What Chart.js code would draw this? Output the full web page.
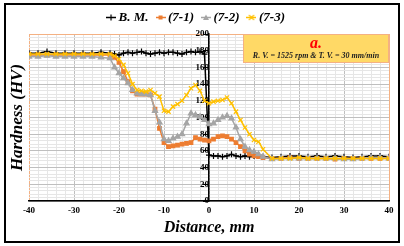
<!DOCTYPE html>
<html>
<head>
<meta charset="utf-8">
<script src="https://cdn.jsdelivr.net/npm/chart.js@4.4.0/dist/chart.umd.min.js"></script>
<style>
  html, body { margin: 0; padding: 0; background: #fff; }
  #wrap { width: 404px; height: 246px; position: relative; }
</style>
</head>
<body>
<div id="wrap"><canvas id="hardnessChart" width="404" height="246"></canvas></div>
<script>
// distance from weld centre, mm
var distance = [-40, -38, -36, -34, -32, -30, -28, -26, -24, -22,
    -21, -20, -19, -18, -17, -16, -15, -14, -13, -12, -11, -10, -9, -8, -7, -6, -5, -4, -3, -2, -1,
    0, 1, 2, 3, 4, 5, 6, 7, 8, 9, 10, 11, 12,
    14, 16, 18, 20, 22, 24, 26, 28, 30, 32, 34, 36, 38, 40];

// hardness, HV
var baseMetal = [177, 177, 179, 177, 177, 177, 177, 177, 178, 177,
    176, 175, 177, 178, 177, 178, 179, 177, 176, 177, 178, 177, 178, 178, 177, 176, 178, 179, 178, 179, 176,
    55, 54, 54, 53, 54, 56, 54, 53, 54, 53, 54, 55, 53,
    52, 53, 54, 54, 53, 54, 53, 54, 53, 52, 53, 54, 54, 53];
var sample71 = [175, 175, 175, 175, 175, 175, 175, 175, 175, 175,
    172, 166, 155, 143, 132, 128, 128, 128, 127, 110, 87, 70, 65, 66, 67, 68, 69, 70, 76, 74, 73,
    72, 74, 77, 78, 77, 74, 70, 65, 60, 56, 54, 53, 52,
    51, 51, 52, 51, 51, 51, 51, 50, 51, 51, 51, 51, 51, 51];
var sample72 = [173, 173, 174, 173, 173, 173, 173, 173, 172, 171,
    160, 153, 147, 141, 133, 129, 128, 128, 127, 108, 94, 74, 72, 75, 77, 80, 93, 105, 103, 101, 97,
    92, 93, 97, 100, 102, 99, 88, 74, 65, 61, 59, 56, 53,
    50, 51, 51, 51, 51, 51, 51, 51, 50, 50, 51, 52, 52, 51];
var sample73 = [176, 176, 176, 176, 176, 176, 176, 176, 176, 176,
    174, 170, 163, 153, 140, 133, 132, 131, 133, 129, 125, 108, 107, 113, 116, 120, 127, 135, 139, 132, 120,
    117, 119, 120, 121, 124, 117, 107, 97, 88, 80, 73, 71, 62,
    51, 51, 51, 52, 51, 51, 51, 51, 51, 51, 51, 51, 51, 51];

var seriesNames = ['B. M.', '(7-1)', '(7-2)', '(7-3)'];

var SERIF = '"Liberation Serif", "Times New Roman", serif';

function toPoints(values) {
    return values.map(function (v, i) { return {x: distance[i], y: v}; });
}

// little "line + marker" icon for the legend, like Excel does
function legendIcon(color, style) {
    var c = document.createElement('canvas');
    c.width = 10;
    c.height = 9;
    var g = c.getContext('2d');
    g.strokeStyle = color;
    g.fillStyle = color;
    g.lineWidth = 1.5;
    g.beginPath();
    g.moveTo(0, 4.5);
    g.lineTo(10, 4.5);
    g.stroke();
    g.lineWidth = 1.2;
    g.beginPath();
    if (style === 'cross') {
        g.moveTo(5, 1.5); g.lineTo(5, 7.5);
        g.moveTo(2, 4.5); g.lineTo(8, 4.5);
        g.stroke();
    } else if (style === 'rect') {
        g.fillRect(3, 2.5, 4, 4);
    } else if (style === 'triangle') {
        g.moveTo(5, 1.5); g.lineTo(8, 7); g.lineTo(2, 7); g.closePath();
        g.fill();
    } else {
        g.moveTo(2.5, 2); g.lineTo(7.5, 7);
        g.moveTo(7.5, 2); g.lineTo(2.5, 7);
        g.stroke();
    }
    return c;
}

var colors = ['#000000', '#ED7D31', '#A5A5A5', '#FFC000'];
var styles = ['cross', 'rect', 'triangle', 'crossRot'];
var radii = [3, 2.5, 3, 3];
var icons = colors.map(function (c, i) { return legendIcon(c, styles[i]); });

// frame, info box
var decorations = {
    id: 'decorations',
    afterDatasetsDraw: function (chart) {
        var ctx = chart.ctx;
        var area = chart.chartArea;
        ctx.save();
        var bx = area.right - 146, by = area.top, bw = 146, bh = 29;
        ctx.fillStyle = '#FFD966';
        ctx.fillRect(bx, by, bw, bh);
        ctx.strokeStyle = '#F4B183';
        ctx.lineWidth = 1;
        ctx.strokeRect(bx + 0.5, by + 0.5, bw - 1, bh - 1);
        ctx.textAlign = 'center';
        ctx.textBaseline = 'middle';
        ctx.fillStyle = '#FF0000';
        ctx.font = 'italic bold 16px ' + SERIF;
        ctx.fillText('a.', bx + bw / 2, by + 10);
        ctx.fillStyle = '#222222';
        ctx.font = 'italic bold 8px ' + SERIF;
        ctx.fillText('R. V. = 1525 rpm & T. V. = 30 mm/min', bx + bw / 2, by + 22);
        ctx.restore();
    },
    afterDraw: function (chart) {
        var ctx = chart.ctx;
        ctx.save();
        ctx.strokeStyle = '#000';
        ctx.lineWidth = 2;
        ctx.strokeRect(5, 4, 394, 238);
        ctx.restore();
    }
};

var datasets = [baseMetal, sample71, sample72, sample73].map(function (vals, i) {
    return {
        label: seriesNames[i],
        data: toPoints(vals),
        borderColor: colors[i],
        backgroundColor: colors[i],
        borderWidth: 1.5,
        pointStyle: styles[i],
        pointRadius: radii[i],
        pointBorderWidth: 1.2,
        pointBorderColor: colors[i],
        pointBackgroundColor: colors[i],
        order: 3 - i
    };
});

new Chart(document.getElementById('hardnessChart').getContext('2d'), {
    type: 'line',
    data: {datasets: datasets},
    plugins: [decorations],
    options: {
        responsive: false,
        animation: false,
        layout: {padding: {left: 6, right: 15, top: 0, bottom: 10}},
        plugins: {
            tooltip: {enabled: false},
            legend: {
                position: 'top',
                labels: {
                    usePointStyle: true,
                    pointStyleWidth: 2,
                    padding: 11,
                    color: '#000',
                    font: {family: SERIF, size: 13, style: 'italic', weight: 'bold'},
                    generateLabels: function (chart) {
                        return chart.data.datasets.map(function (ds, i) {
                            return {
                                text: ds.label,
                                pointStyle: icons[i],
                                fillStyle: colors[i],
                                strokeStyle: colors[i],
                                lineWidth: 0,
                                hidden: false,
                                datasetIndex: i,
                                fontColor: '#000'
                            };
                        });
                    }
                }
            }
        },
        scales: {
            x: {
                type: 'linear',
                min: -40,
                max: 40,
                border: {color: '#000', width: 1.5},
                grid: {
                    drawTicks: false,
                    color: function (c) {
                        var v = c.tick.value;
                        if (v === -40 || v === 40) return '#F4B183';
                        return v % 10 === 0 ? '#BFBFBF' : '#E6E6E6';
                    }
                },
                ticks: {
                    stepSize: 2,
                    autoSkip: false,
                    maxRotation: 0,
                    padding: 5,
                    color: '#000',
                    font: {family: SERIF, size: 9, weight: 'bold', lineHeight: 1},
                    callback: function (v) { return v % 10 === 0 ? v : ''; }
                },
                title: {
                    display: true,
                    text: 'Distance, mm',
                    color: '#000',
                    padding: {top: 0, bottom: 0},
                    font: {family: SERIF, size: 16, style: 'italic', weight: 'bold', lineHeight: 1}
                }
            },
            y: {
                type: 'linear',
                position: {x: 0},
                min: 0,
                max: 200,
                border: {color: '#000', width: 1.5},
                grid: {
                    tickLength: 5,
                    color: function (c) {
                        var v = c.tick.value;
                        if (v === 200) return '#F4B183';
                        return v % 20 === 0 ? '#BFBFBF' : '#E6E6E6';
                    },
                    tickColor: function (c) {
                        return c.tick.value % 20 === 0 ? '#000' : 'rgba(0,0,0,0)';
                    }
                },
                ticks: {
                    stepSize: 4,
                    autoSkip: false,
                    padding: 2,
                    color: '#000',
                    font: {family: SERIF, size: 9, weight: 'bold'},
                    callback: function (v) { return v % 20 === 0 ? v : ''; }
                }
            },
            yTitle: {
                type: 'linear',
                position: 'left',
                grid: {display: false},
                border: {display: false},
                ticks: {display: false},
                afterFit: function (scale) { scale.width = 23; },
                title: {
                    display: true,
                    text: 'Hardness (HV)',
                    color: '#000',
                    padding: {top: 1, bottom: 1},
                    font: {family: SERIF, size: 17, style: 'italic', weight: 'bold'}
                }
            }
        }
    }
});
</script>
</body>
</html>
